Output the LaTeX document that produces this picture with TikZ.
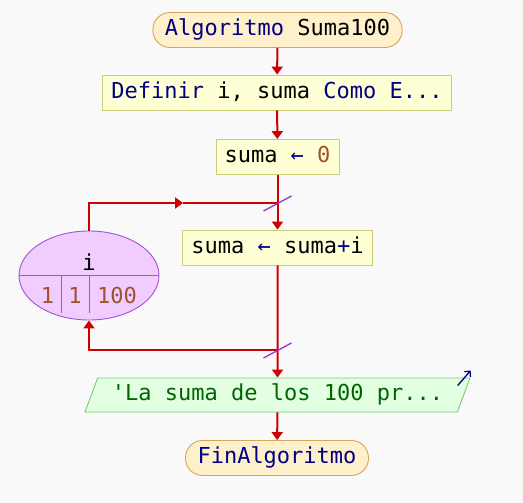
\documentclass[tikz,border=0pt]{standalone}
\usepackage{fontspec}
\setmonofont{DejaVu Sans Mono}
\usetikzlibrary{shapes.geometric,arrows.meta,calc}
\definecolor{fondo}{HTML}{F9F9F9}
\definecolor{rojo}{HTML}{CC0000}
\definecolor{clave}{HTML}{000080}
\definecolor{numero}{HTML}{A0522D}
\definecolor{verde}{HTML}{006400}
\definecolor{violeta}{HTML}{9933CC}
\definecolor{termbg}{HTML}{FFF0CC}
\definecolor{termln}{HTML}{D8A458}
\definecolor{procbg}{HTML}{FFFFD6}
\definecolor{procln}{HTML}{CCCC77}
\definecolor{ciclobg}{HTML}{F0CCFF}
\definecolor{cicloln}{HTML}{A64FD8}
\definecolor{salbg}{HTML}{E2FFE2}
\definecolor{salln}{HTML}{77CC77}
\newcommand{\kw}[1]{{\color{clave}#1}}
\newcommand{\nm}[1]{{\color{numero}#1}}
\tikzset{
  txt/.style    ={font=\fontsize{22}{24}\selectfont\ttfamily, text height=16pt, text depth=4.5pt},
  term/.style   ={txt, draw=termln, line width=.9pt, fill=termbg, rounded corners=17pt, inner xsep=12pt, minimum height=35pt},
  proc/.style   ={txt, draw=procln, line width=.9pt, fill=procbg, inner xsep=8.5pt, minimum height=35pt},
  ciclo/.style  ={draw=cicloln, line width=.9pt, fill=ciclobg, ellipse, minimum width=140pt, minimum height=89pt, inner sep=0pt},
  sal/.style    ={txt, draw=salln, line width=.9pt, fill=salbg, trapezium, trapezium left angle=65, trapezium right angle=115,
                  trapezium stretches body, minimum width=385pt, minimum height=34pt, text=verde},
  linea/.style  ={draw=rojo, line width=2pt},
  flecha/.style ={linea, -{Triangle[length=8pt,width=11pt]}},
  corte/.style  ={draw=violeta, line width=1.3pt},
  div/.style    ={draw=cicloln, line width=.9pt},
  escribe/.style={draw=clave, line width=1.3pt, -{Straight Barb[length=4pt,width=8pt]}},
}

\begin{document}
\begin{tikzpicture}[x=1pt,y=-1pt]
  \fill[fondo] (0,0) rectangle (523,503);
  % nodos del diagrama
  \node[term] (ini)  at (277.5,30)  {\kw{Algoritmo} Suma100};
  \node[proc] (defn) at (277,92.5)  {\kw{Definir} i, suma \kw{Como E...}};
  \node[proc] (init) at (277.5,157) {suma \kw{←} \nm{0}};
  \node[proc] (acum) at (277.5,247.5) {suma \kw{←} suma\kw{+}i};
  \node[ciclo] (var) at (89,275.5) {};
  \node[sal]  (out)  at (277.5,395) {'La suma de los 100 pr...};
  \node[term] (fin)  at (277,458)   {\kw{FinAlgoritmo}};
  % interior del ciclo
  \draw[div] (var.west) -- (var.east);
  \draw[div] (61,275.5) -- (61,313);
  \draw[div] (89,275.5) -- (89,313);
  \node[txt,anchor=base] (vi) at (89,270) {i};
  \node[txt,anchor=base,text=numero] (v1) at (47.5,303) {1};
  \node[txt,anchor=base,text=numero] (v2) at (75,303) {1};
  \node[txt,anchor=base,text=numero] (v3) at (117,303) {100};
  % uniones
  \coordinate (j1) at (277.5,203);
  \coordinate (j2) at (277.5,350);
  \coordinate (m1) at (183,203);
  \draw[flecha] (ini) -- (defn);
  \draw[flecha] (defn) -- (init);
  \draw[flecha] (init) -- (acum);
  \draw[flecha] (acum) -- (out);
  \draw[flecha] (out) -- (fin);
  \draw[flecha] (var.north) |- (m1);
  \draw[linea] (m1) -- (j1);
  \draw[flecha] (j2) -| (var.south);
  \draw[corte] ($(j1)+(-14,8)$) -- ($(j1)+(14,-7)$);
  \draw[corte] ($(j2)+(-14,8)$) -- ($(j2)+(14,-7)$);
  \draw[escribe] ($(out.top right corner)+(-13,8)$) -- ($(out.top right corner)+(0,-7)$);
\end{tikzpicture}
\end{document}
